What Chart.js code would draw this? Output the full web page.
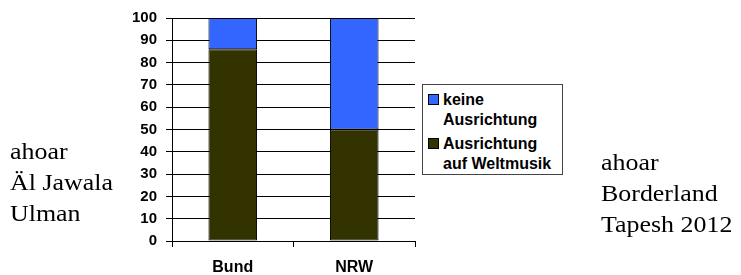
<!DOCTYPE html>
<html>
<head>
<meta charset="utf-8">
<script src="https://cdn.jsdelivr.net/npm/chart.js@4"></script>
<style>
  html, body { margin: 0; padding: 0; background: #fff; }
  body { width: 741px; height: 275px; position: relative; overflow: hidden; }
  #c { position: absolute; left: 0; top: 0; }
  .side { position: absolute; font-family: 'Liberation Serif', 'Times New Roman', serif; font-size: 24px; line-height: 31px; color: #000; white-space: nowrap; transform: scaleX(1.08); transform-origin: 0 0; }
  #legend { position: absolute; left: 422px; top: 84px; width: 141px; height: 91px; box-sizing: border-box; border: 1px solid #444; background: #fff; padding-top: 5px; font-family: 'Liberation Sans', Arial, sans-serif; font-weight: bold; font-size: 16px; line-height: 20px; color: #000; }
  .item { position: relative; padding-left: 20px; margin-bottom: 4px; white-space: nowrap; }
  .sw { position: absolute; left: 5px; top: 4px; width: 9px; height: 9px; border: 1px solid #000; }
</style>
</head>
<body>
<canvas id="c" width="741" height="275"></canvas>
<div class="side" id="leftText" style="left:10px; top:136px;"></div>
<div class="side" id="rightText" style="left:601px; top:147px;"></div>
<div id="legend"></div>
<script>
const categories = ['Bund', 'NRW'];
const seriesNames = ['Ausrichtung auf Weltmusik', 'keine Ausrichtung'];
const valuesWeltmusik = [86, 50];
const valuesKeine = [14, 50];
const yTicks = [0, 10, 20, 30, 40, 50, 60, 70, 80, 90, 100];
const seriesColors = ['#333300', '#3366FF'];
const leftLines = ['ahoar', 'Äl Jawala', 'Ulman'];
const rightLines = ['ahoar', 'Borderland', 'Tapesh 2012'];

document.getElementById('leftText').innerHTML = leftLines.join('<br>');
document.getElementById('rightText').innerHTML = rightLines.join('<br>');

const fam = "'Liberation Sans', Arial, sans-serif";

const chart = new Chart(document.getElementById('c'), {
  type: 'bar',
  data: {
    labels: categories,
    datasets: [
      { label: seriesNames[0], data: valuesWeltmusik, backgroundColor: seriesColors[0], borderColor: '#000', borderWidth: 1, borderSkipped: false, barPercentage: 0.4, categoryPercentage: 1 },
      { label: seriesNames[1], data: valuesKeine, backgroundColor: seriesColors[1], borderColor: '#000', borderWidth: 1, borderSkipped: false, barPercentage: 0.4, categoryPercentage: 1 }
    ]
  },
  options: {
    responsive: false,
    animation: false,
    layout: { padding: { left: 0, top: 18, right: 326, bottom: 0 } },
    plugins: { legend: { display: false }, tooltip: { enabled: false } },
    scales: {
      x: {
        stacked: true,
        grid: { drawOnChartArea: false, drawTicks: true, tickLength: 6, color: '#000', offset: true },
        border: { color: '#000', width: 1 },
        ticks: { color: '#000', font: { family: fam, weight: 'bold', size: 16 }, padding: 11 },
        afterFit(s) { s.height = 34; }
      },
      y: {
        stacked: true,
        min: 0, max: 100,
        afterBuildTicks(s) { s.ticks = yTicks.map(v => ({ value: v })); },
        ticks: { color: '#000', font: { family: fam, weight: 'bold', size: 15 }, padding: 9 },
        grid: { color: '#000', lineWidth: 1, tickLength: 6, drawTicks: true },
        border: { color: '#000', width: 1 },
        afterFit(s) { s.width = 172; }
      }
    }
  }
});

// HTML legend built from the chart's datasets (top series first)
const legendEl = document.getElementById('legend');
const order = [1, 0];
order.forEach(i => {
  const ds = chart.data.datasets[i];
  const name = ds.label;
  const sp = name.indexOf(' ');
  const item = document.createElement('div');
  item.className = 'item';
  const sw = document.createElement('span');
  sw.className = 'sw';
  sw.style.background = ds.backgroundColor;
  item.appendChild(sw);
  item.appendChild(document.createTextNode(name.slice(0, sp)));
  item.appendChild(document.createElement('br'));
  item.appendChild(document.createTextNode(name.slice(sp + 1)));
  legendEl.appendChild(item);
});
</script>
</body>
</html>
